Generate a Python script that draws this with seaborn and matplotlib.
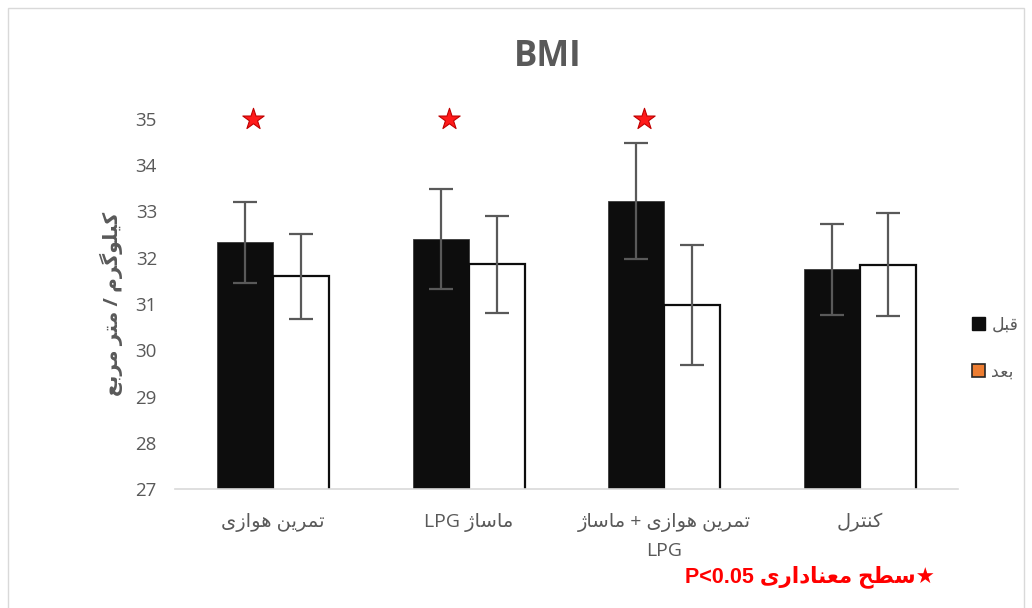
import numpy as np
import pandas as pd
import matplotlib
matplotlib.use("Agg")
import matplotlib.pyplot as plt
from matplotlib.patches import Patch, Rectangle
import seaborn as sns

# ---------------- data ----------------
groups = ["تمرین هوازی", "ماساژ LPG", "تمرین هوازی + ماساژ\nLPG", "کنترل"]
times = ["قبل", "بعد"]
before_mean = [32.33, 32.40, 33.23, 31.75]
after_mean = [31.60, 31.86, 30.98, 31.85]
before_err = [0.87, 1.08, 1.25, 0.99]
after_err = [0.92, 1.05, 1.29, 1.12]
significant = [True, True, True, False]
y_ticks = [27, 28, 29, 30, 31, 32, 33, 34, 35]
title = "BMI"
y_label = "کیلوگرم / متر مربع"
footnote = "★سطح معناداری P<0.05"

# ---------------- Persian shaping helpers ----------------
FORMS = {
    'ا': ('\uFE8D', '\uFE8E', None, None),
    'ب': ('\uFE8F', '\uFE90', '\uFE91', '\uFE92'),
    'ت': ('\uFE95', '\uFE96', '\uFE97', '\uFE98'),
    'ح': ('\uFEA1', '\uFEA2', '\uFEA3', '\uFEA4'),
    'د': ('\uFEA9', '\uFEAA', None, None),
    'ر': ('\uFEAD', '\uFEAE', None, None),
    'ز': ('\uFEAF', '\uFEB0', None, None),
    'ژ': ('\uFB8A', '\uFB8B', None, None),
    'س': ('\uFEB1', '\uFEB2', '\uFEB3', '\uFEB4'),
    'ط': ('\uFEC1', '\uFEC2', '\uFEC3', '\uFEC4'),
    'ع': ('\uFEC9', '\uFECA', '\uFECB', '\uFECC'),
    'ق': ('\uFED5', '\uFED6', '\uFED7', '\uFED8'),
    'ک': ('\uFB8E', '\uFB8F', '\uFB90', '\uFB91'),
    'گ': ('\uFB92', '\uFB93', '\uFB94', '\uFB95'),
    'ل': ('\uFEDD', '\uFEDE', '\uFEDF', '\uFEE0'),
    'م': ('\uFEE1', '\uFEE2', '\uFEE3', '\uFEE4'),
    'ن': ('\uFEE5', '\uFEE6', '\uFEE7', '\uFEE8'),
    'ه': ('\uFEE9', '\uFEEA', '\uFEEB', '\uFEEC'),
    'و': ('\uFEED', '\uFEEE', None, None),
    'ی': ('\uFBFC', '\uFBFD', '\uFBFE', '\uFBFF'),
}


def shape(s):
    out = []
    for i, c in enumerate(s):
        if c not in FORMS:
            out.append(c)
            continue
        prev = s[i - 1] if i > 0 else None
        nxt = s[i + 1] if i + 1 < len(s) else None
        jp = prev in FORMS and FORMS[prev][2] is not None
        jn = nxt in FORMS and FORMS[c][2] is not None
        iso, fin, ini, med = FORMS[c]
        if jp and jn:
            out.append(med)
        elif jp:
            out.append(fin)
        elif jn:
            out.append(ini)
        else:
            out.append(iso)
    return ''.join(out)


def _cls(ch):
    o = ord(ch)
    if 0xFB50 <= o <= 0xFDFF or 0xFE70 <= o <= 0xFEFF or 0x0600 <= o <= 0x06FF:
        return 'R'
    if ch.isascii() and ch.isalnum():
        return 'L'
    return 'N'


def rtl_line(s):
    s = shape(s)
    types = [_cls(c) for c in s]
    n = len(s)
    res = []
    for i, t in enumerate(types):
        if t != 'N':
            res.append(t)
            continue
        p = next((types[j] for j in range(i - 1, -1, -1) if types[j] != 'N'), 'R')
        q = next((types[j] for j in range(i + 1, n) if types[j] != 'N'), 'R')
        res.append('L' if (p == 'L' and q == 'L') else 'R')
    runs = []
    for c, t in zip(s, res):
        if runs and runs[-1][0] == t:
            runs[-1][1].append(c)
        else:
            runs.append([t, [c]])
    out = []
    for t, chars in reversed(runs):
        out.append(''.join(reversed(chars)) if t == 'R' else ''.join(chars))
    return ''.join(out)


def rtl(s):
    return '\n'.join(rtl_line(l) for l in s.split('\n'))


# ---------------- figure ----------------
sns.set_style("white")
plt.rcParams['font.family'] = ['Open Sans', 'DejaVu Sans']

df = pd.DataFrame({
    "group": groups * 2,
    "time": [times[0]] * 4 + [times[1]] * 4,
    "value": before_mean + after_mean,
})

fig = plt.figure(figsize=(10.32, 6.08), dpi=100)
ax = fig.add_axes([175 / 1032, (608 - 489) / 608, (958 - 175) / 1032, (489 - 119) / 608])

sns.barplot(data=df, x="group", y="value", hue="time", order=groups, hue_order=times,
            palette=["#0d0d0d", "#ffffff"], width=0.571, errorbar=None, legend=False,
            saturation=1, ax=ax)

gray = "#595959"
errs = [before_err, after_err]
means = [before_mean, after_mean]
bar_containers = list(ax.containers)
centers = []
for k, cont in enumerate(bar_containers):
    xs = []
    for bar in cont.patches:
        if k == 0:
            bar.set_edgecolor("#3a3a3a")
            bar.set_linewidth(0.6)
        else:
            bar.set_edgecolor("#0d0d0d")
            bar.set_linewidth(1.6)
        xs.append(bar.get_x() + bar.get_width() / 2)
    centers.append(xs)
for k in range(len(bar_containers)):
    ax.errorbar(centers[k], means[k], yerr=errs[k], fmt="none", ecolor=gray, elinewidth=1.6,
                capsize=8.5, capthick=1.6, zorder=5)

# significance stars above the "before" bars
sx = [centers[0][i] + 0.04 for i, s in enumerate(significant) if s]
ax.scatter(sx, [y_ticks[-1]] * len(sx), marker="*", s=260, facecolor="#ff1a1a",
           edgecolor="#c00000", linewidth=0.8, clip_on=False, zorder=6)

ax.set_ylim(y_ticks[0], y_ticks[-1])
ax.set_yticks(y_ticks)
ax.set_xlim(-0.5, len(groups) - 0.5)
ax.set_xticks(range(len(groups)))
ax.set_xticklabels([rtl(g) for g in groups], fontsize=14, color=gray, linespacing=1.75, va="top")
ax.tick_params(axis="y", length=0, pad=13, labelsize=13.5, labelcolor=gray)
ax.tick_params(axis="x", length=0, pad=17)
ax.set_xlabel("")
ax.set_ylabel(rtl(y_label), fontsize=14.5, fontweight="bold", color=gray, labelpad=9)
for side in ["left", "right", "top"]:
    ax.spines[side].set_visible(False)
ax.spines["bottom"].set_color("#d9d9d9")
ax.spines["bottom"].set_linewidth(1.2)

fig.text(548 / 1032, 1 - 57 / 608, title, fontsize=25, fontweight="bold", color=gray,
         ha="center", va="center")

handles = [Patch(facecolor="#0d0d0d", edgecolor="#0d0d0d"),
           Patch(facecolor="#ed7d31", edgecolor="#262626", linewidth=1.2)]
leg = fig.legend(handles, [rtl(t) for t in times], loc="center left",
                 bbox_to_anchor=(967 / 1032, 1 - 349 / 608), frameon=False,
                 fontsize=12.5, labelcolor=gray, handlelength=0.75, handleheight=0.75,
                 handletextpad=0.35, labelspacing=1.75, borderaxespad=0, borderpad=0.3)

fig.text(935 / 1032, 1 - 577 / 608, rtl(footnote), fontsize=15.5, fontweight="bold",
         color="#ff0000", ha="right", va="center",
         family=["Liberation Sans", "DejaVu Sans"])

fig.add_artist(Rectangle((8 / 1032, -0.05), (1024 - 8) / 1032, 1.05 - 8 / 608,
                         transform=fig.transFigure, fill=False, edgecolor="#d9d9d9",
                         linewidth=1))

fig.savefig("out.png", dpi=100)
